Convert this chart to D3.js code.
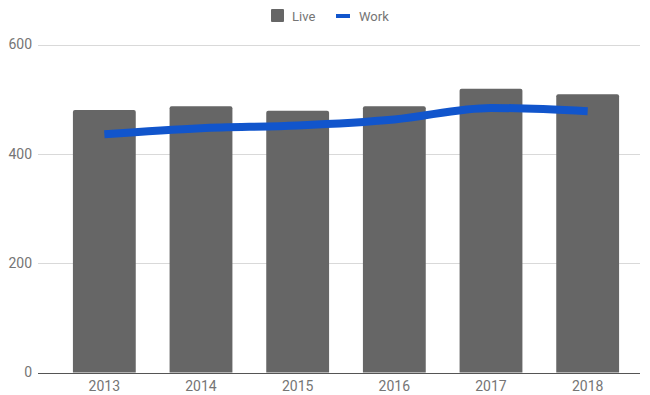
<!DOCTYPE html>
<html>
<head>
<meta charset="utf-8">
<script src="https://cdn.jsdelivr.net/npm/d3@7"></script>
<style>
  html, body { margin: 0; padding: 0; background: #fff; }
  svg { display: block; font-family: Roboto, "Noto Sans", Arial, sans-serif; }
</style>
</head>
<body>
<svg id="chart" width="650" height="395"></svg>
<script>
// Yearly counts: people who live here vs. people who work here
const years = ["2013", "2014", "2015", "2016", "2017", "2018"];
const live = [480, 487, 479, 487, 519, 509];
const work = [436, 447, 452, 463, 484, 478];
const yTicks = [0, 200, 400, 600];
const seriesNames = ["Live", "Work"];

const W = 650, H = 395;
const margin = { left: 56, right: 14, top: 44, bottom: 22 };
const svg = d3.select("#chart");

const x = d3.scaleBand()
  .domain(years)
  .range([margin.left, W - margin.right])
  .paddingInner(0.35)
  .paddingOuter(0.175);

const y = d3.scaleLinear()
  .domain([0, 600])
  .range([H - margin.bottom - 0.5, margin.top + 0.5]);

// Horizontal gridlines
const gridLeft = 38, gridRight = 640;
svg.append("g")
  .selectAll("line")
  .data(yTicks.filter(d => d !== 0))
  .join("line")
  .attr("x1", gridLeft).attr("x2", gridRight)
  .attr("y1", d => Math.round(y(d)) + 0.5)
  .attr("y2", d => Math.round(y(d)) + 0.5)
  .attr("stroke", "#d9d9d9")
  .attr("stroke-width", 1);

// Y tick labels
svg.append("g")
  .selectAll("text")
  .data(yTicks)
  .join("text")
  .attr("x", 32)
  .attr("y", d => y(d))
  .attr("dy", "0.35em")
  .attr("text-anchor", "end")
  .attr("fill", "#757575")
  .attr("font-size", 14)
  .text(d => d);

// Bars
svg.append("g")
  .selectAll("path")
  .data(years.map((yr, i) => ({ yr, v: live[i] })))
  .join("path")
  .attr("fill", "#666666")
  .attr("d", d => {
    const x0 = x(d.yr), w = x.bandwidth();
    const top = y(d.v), bottom = y(0), r = 2;
    return `M${x0},${bottom}V${top + r}Q${x0},${top} ${x0 + r},${top}` +
           `H${x0 + w - r}Q${x0 + w},${top} ${x0 + w},${top + r}V${bottom}Z`;
  });

// Baseline
svg.append("line")
  .attr("x1", gridLeft).attr("x2", gridRight)
  .attr("y1", Math.round(y(0)) + 0.5).attr("y2", Math.round(y(0)) + 0.5)
  .attr("stroke", "#555")
  .attr("stroke-width", 1);

// X tick labels
svg.append("g")
  .selectAll("text")
  .data(years)
  .join("text")
  .attr("x", d => x(d) + x.bandwidth() / 2)
  .attr("y", y(0) + 18)
  .attr("text-anchor", "middle")
  .attr("fill", "#757575")
  .attr("font-size", 14)
  .text(d => d);

// Work line
const line = d3.line()
  .x((d, i) => x(years[i]) + x.bandwidth() / 2)
  .y(d => y(d))
  .curve(d3.curveMonotoneX);

svg.append("path")
  .datum(work)
  .attr("fill", "none")
  .attr("stroke", "#1155cc")
  .attr("stroke-width", 8)
  .attr("stroke-linejoin", "round")
  .attr("d", line);

// Legend
const legend = svg.append("g").attr("font-size", 13).attr("fill", "#757575");
legend.append("rect")
  .attr("x", 271).attr("y", 9).attr("width", 13).attr("height", 13)
  .attr("rx", 1).attr("fill", "#666666");
legend.append("text").attr("x", 292).attr("y", 16).attr("dy", "0.35em").text(seriesNames[0]);
legend.append("line")
  .attr("x1", 336).attr("x2", 350).attr("y1", 16).attr("y2", 16)
  .attr("stroke", "#1155cc").attr("stroke-width", 4);
legend.append("text").attr("x", 359).attr("y", 16).attr("dy", "0.35em").text(seriesNames[1]);
</script>
</body>
</html>
